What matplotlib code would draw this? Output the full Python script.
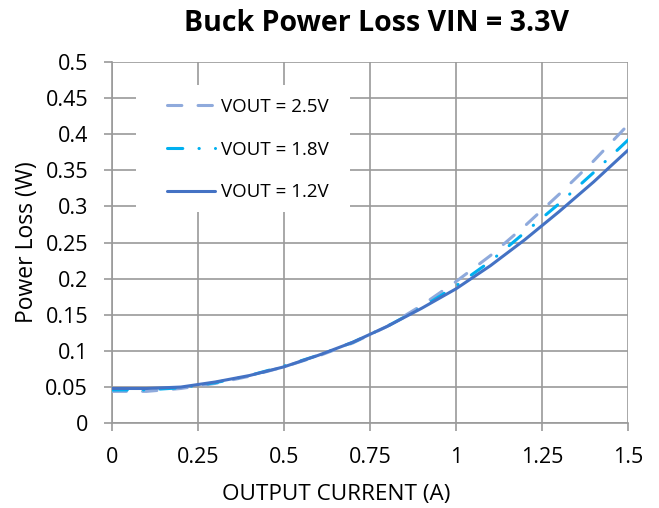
import matplotlib
matplotlib.use("Agg")
import matplotlib.pyplot as plt
from matplotlib.patches import Rectangle

plt.rcParams['font.family'] = ['Open Sans', 'DejaVu Sans']

current = [0.0, 0.1, 0.2, 0.3, 0.4, 0.5, 0.6, 0.7, 0.8, 0.9, 1.0, 1.1, 1.2, 1.3, 1.4, 1.5]
loss_25 = [0.044, 0.044, 0.048, 0.055, 0.065, 0.078, 0.093, 0.111, 0.134, 0.163, 0.196, 0.232, 0.273, 0.317, 0.363, 0.413]
loss_18 = [0.046, 0.046, 0.049, 0.056, 0.066, 0.079, 0.094, 0.112, 0.134, 0.160, 0.190, 0.224, 0.264, 0.304, 0.347, 0.392]
loss_12 = [0.048, 0.048, 0.050, 0.057, 0.066, 0.078, 0.094, 0.112, 0.134, 0.159, 0.186, 0.218, 0.254, 0.293, 0.334, 0.378]
labels = ['VOUT = 2.5V', 'VOUT = 1.8V', 'VOUT = 1.2V']
xticks = [0, 0.25, 0.5, 0.75, 1, 1.25, 1.5]
xticklabels = ['0', '0.25', '0.5', '0.75', '1', '1.25', '1.5']
yticks = [0, 0.05, 0.1, 0.15, 0.2, 0.25, 0.3, 0.35, 0.4, 0.45, 0.5]
yticklabels = ['0', '0.05', '0.1', '0.15', '0.2', '0.25', '0.3', '0.35', '0.4', '0.45', '0.5']

fig = plt.figure(figsize=(6.59, 5.08), dpi=100)
ax = fig.add_axes([0.170, 0.167, 0.783, 0.711])

lw = 2.2
ax.plot(current, loss_25, color='#8FAADC', lw=lw, dashes=(4.7, 5.3), label=labels[0],
        dash_capstyle='round', zorder=3)
ax.plot(current, loss_18, color='#00B0F0', lw=lw, dashes=(5.0, 5.3, 0.1, 5.3), label=labels[1],
        dash_capstyle='round', zorder=3)
ax.plot(current, loss_12, color='#4472C4', lw=lw, label=labels[2], solid_capstyle='round', zorder=3)

ax.set_xlim(0, 1.5)
ax.set_ylim(0, 0.5)
ax.set_xticks(xticks)
ax.set_xticklabels(xticklabels)
ax.set_yticks(yticks)
ax.set_yticklabels(yticklabels)
ax.grid(True, color='#9a9a9a', lw=1.2)
ax.set_axisbelow(True)
for s in ['top', 'right']:
    ax.spines[s].set_visible(False)
for s in ['left', 'bottom']:
    ax.spines[s].set_color('#9a9a9a')
    ax.spines[s].set_linewidth(1.2)
ax.tick_params(axis='both', direction='out', length=5.8, width=1.2, color='#9a9a9a',
               labelsize=15.5, pad=11.5, labelcolor='black')

xl = ax.set_xlabel('OUTPUT CURRENT (A)', fontsize=16.2)
ax.xaxis.set_label_coords(0.434, -0.197)
xl.set_va('center')
yl = ax.set_ylabel('Power Loss (W)', fontsize=16.5)
ax.yaxis.set_label_coords(-0.165, 0.5)
yl.set_va('center')

fig.text(0.571, 0.953, 'Buck Power Loss VIN = 3.3V', fontsize=20.5, fontweight='bold',
         ha='center', va='center')

# white legend background box
ax.add_patch(Rectangle((0.0465, 0.584), 0.415, 0.352, transform=ax.transAxes,
                       facecolor='white', edgecolor='none', zorder=1.5))

leg = ax.legend(loc='upper left', bbox_to_anchor=(0.1066, 0.9003), frameon=False,
                handlelength=2.56, handletextpad=0.3, labelspacing=1.31, fontsize=13.5,
                borderpad=0, borderaxespad=0)

fig.savefig('out.png', dpi=100)
